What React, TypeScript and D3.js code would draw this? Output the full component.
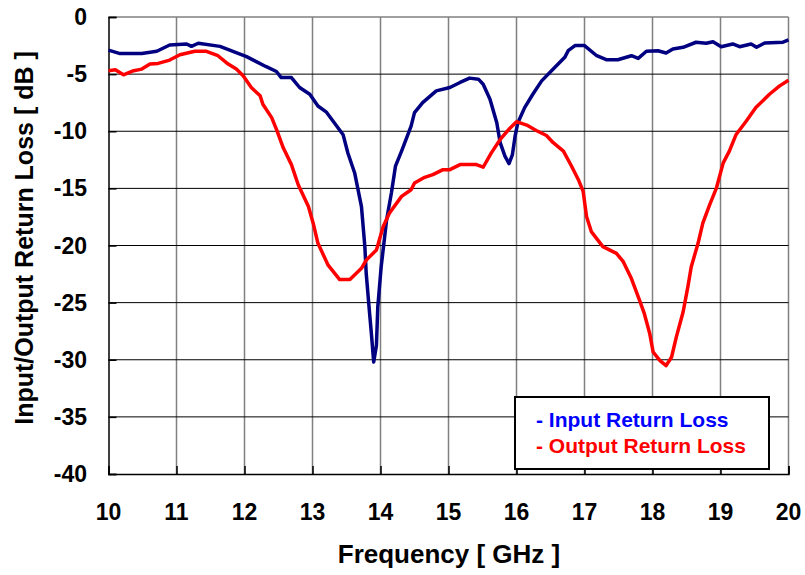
import React, { useEffect, useRef } from 'react';
import * as d3 from 'd3';

// Input return loss (navy trace)
const inputFreq = [
  10, 10.17, 10.49, 10.71, 10.9, 11.15, 11.22, 11.32, 11.64, 11.83, 12.03, 12.13, 12.32, 12.47, 12.54, 12.69,
  12.81, 12.96, 13.08, 13.2, 13.35, 13.45, 13.52, 13.62, 13.72, 13.77, 13.79, 13.84, 13.87, 13.9, 13.94, 13.96,
  14.01, 14.09, 14.16, 14.22, 14.31, 14.45, 14.5, 14.62, 14.82, 15.02, 15.17, 15.31, 15.44, 15.51, 15.61, 15.71,
  15.76, 15.83, 15.89, 15.94, 15.98, 16.02, 16.12, 16.24, 16.37, 16.54, 16.71, 16.76, 16.86, 17.0, 17.18, 17.32,
  17.49, 17.69, 17.79, 17.91, 18.08, 18.2, 18.3, 18.45, 18.64, 18.79, 18.89, 19.01, 19.18, 19.28, 19.45, 19.53,
  19.65, 19.92, 20,
];
const inputLoss = [
  -2.9, -3.2, -3.2, -3.0, -2.45, -2.36, -2.57, -2.3, -2.57, -3.0, -3.47, -3.77, -4.35, -4.77, -5.3, -5.3,
  -6.17, -6.76, -7.79, -8.3, -9.5, -10.3, -11.9, -13.65, -16.6, -20.1, -22.45, -25.97, -28.0, -30.2, -28.75, -25.4,
  -21.86, -17.76, -15.4, -13.06, -11.74, -9.55, -8.37, -7.5, -6.47, -6.17, -5.73, -5.35, -5.44, -5.88, -7.2, -9.25,
  -11.0, -12.18, -12.83, -12.04, -10.4, -9.25, -7.93, -6.76, -5.59, -4.56, -3.53, -2.95, -2.5, -2.5, -3.39, -3.74,
  -3.74, -3.39, -3.62, -3.0, -2.95, -3.15, -2.8, -2.65, -2.21, -2.3, -2.16, -2.6, -2.36, -2.6, -2.36, -2.65,
  -2.27, -2.2, -2.0,
];

// Output return loss (red trace)
const outputFreq = [
  10, 10.1, 10.22, 10.37, 10.49, 10.61, 10.73, 10.9, 11.05, 11.27, 11.44, 11.61, 11.76, 11.88, 11.98, 12.1,
  12.23, 12.27, 12.4, 12.47, 12.57, 12.69, 12.79, 12.94, 13.01, 13.08, 13.23, 13.4, 13.55, 13.72, 13.79, 13.94,
  14.04, 14.13, 14.31, 14.45, 14.5, 14.65, 14.77, 14.92, 15.02, 15.17, 15.41, 15.51, 15.63, 15.76, 15.9, 16.0,
  16.15, 16.29, 16.44, 16.54, 16.69, 16.81, 16.91, 16.98, 17.03, 17.1, 17.27, 17.47, 17.57, 17.69, 17.81, 17.88,
  17.96, 18.01, 18.11, 18.2, 18.28, 18.35, 18.45, 18.52, 18.57, 18.67, 18.74, 18.84, 18.94, 19.04, 19.13, 19.23,
  19.38, 19.52, 19.72, 19.87, 20,
];
const outputLoss = [
  -4.7, -4.62, -5.06, -4.7, -4.56, -4.12, -4.06, -3.77, -3.3, -3.0, -3.0, -3.39, -4.12, -4.56, -5.15, -6.17,
  -6.9, -7.64, -8.81, -9.84, -11.45, -12.92, -14.68, -16.58, -18.05, -19.81, -21.72, -22.98, -22.98, -22.0, -21.28, -20.4,
  -18.34, -17.17, -15.7, -15.12, -14.53, -14.03, -13.8, -13.36, -13.36, -12.92, -12.92, -13.15, -11.89, -10.72, -9.75, -9.16,
  -9.46, -9.93, -10.37, -11.0, -11.74, -13.06, -14.24, -15.26, -17.46, -18.78, -20.1, -20.69, -21.42, -22.89, -24.8, -25.97,
  -27.73, -29.34, -30.07, -30.51, -29.78, -28.02, -25.82, -23.62, -21.86, -19.81, -18.05, -16.44, -14.97, -12.77, -11.74, -10.28,
  -9.1, -7.93, -6.76, -6.03, -5.53,
];

const xTicks = [10, 11, 12, 13, 14, 15, 16, 17, 18, 19, 20];
const yTicks = [0, -5, -10, -15, -20, -25, -30, -35, -40];
const legendLabels = ['- Input Return Loss', '- Output Return Loss'];

const FONT = '"Liberation Sans", Arial, sans-serif';

const ReturnLossChart = () => {
  const ref = useRef<SVGSVGElement>(null);

  useEffect(() => {
    const width = 805;
    const height = 575;
    const left = 108.5;
    const right = 788.5;
    const top = 17;
    const bottom = 474;

    const svg = d3.select(ref.current).attr('width', width).attr('height', height);
    svg.selectAll('*').remove();

    svg.append('rect').attr('width', width).attr('height', height).attr('fill', '#fff');

    const x = d3.scaleLinear().domain([10, 20]).range([left, right]);
    const y = d3.scaleLinear().domain([-40, 0]).range([bottom, top]);

    // vertical grid (gray)
    svg
      .append('g')
      .selectAll('line')
      .data(xTicks.slice(1))
      .enter()
      .append('line')
      .attr('x1', (d) => x(d))
      .attr('x2', (d) => x(d))
      .attr('y1', top)
      .attr('y2', bottom)
      .attr('stroke', '#808080')
      .attr('stroke-width', 1.5);

    // top border (gray)
    svg
      .append('line')
      .attr('x1', left)
      .attr('x2', right)
      .attr('y1', top)
      .attr('y2', top)
      .attr('stroke', '#808080')
      .attr('stroke-width', 1.5);

    // horizontal grid (black)
    svg
      .append('g')
      .selectAll('line')
      .data(yTicks.filter((d) => d !== 0 && d !== -40))
      .enter()
      .append('line')
      .attr('x1', left)
      .attr('x2', right)
      .attr('y1', (d) => y(d))
      .attr('y2', (d) => y(d))
      .attr('stroke', '#000')
      .attr('stroke-width', 1);

    // Left axis, ticks pointing inward
    const yAxis = svg
      .append('g')
      .attr('transform', `translate(${left},0)`)
      .call(d3.axisRight(y).tickValues(yTicks).tickSize(8).tickFormat(() => ''));
    yAxis.select('.domain').attr('stroke', '#000').attr('stroke-width', 1.5);
    yAxis.selectAll('line').attr('stroke', '#000').attr('stroke-width', 1.5);

    // Bottom axis, ticks pointing inward
    const xAxis = svg
      .append('g')
      .attr('transform', `translate(0,${bottom})`)
      .call(d3.axisTop(x).tickValues(xTicks).tickSize(8).tickFormat(() => ''));
    xAxis.select('.domain').attr('stroke', '#000').attr('stroke-width', 1.5);
    xAxis.selectAll('line').attr('stroke', '#000').attr('stroke-width', 1.5);

    // tick labels
    svg
      .append('g')
      .selectAll('text')
      .data(yTicks)
      .enter()
      .append('text')
      .attr('x', 87)
      .attr('y', (d) => y(d) + 8)
      .attr('text-anchor', 'end')
      .style('font-family', FONT)
      .style('font-weight', 'bold')
      .style('font-size', '23px')
      .text((d) => d);

    svg
      .append('g')
      .selectAll('text')
      .data(xTicks)
      .enter()
      .append('text')
      .attr('x', (d) => x(d))
      .attr('y', 520)
      .attr('text-anchor', 'middle')
      .style('font-family', FONT)
      .style('font-weight', 'bold')
      .style('font-size', '23px')
      .text((d) => d);

    // axis titles
    svg
      .append('text')
      .attr('x', 449)
      .attr('y', 563)
      .attr('text-anchor', 'middle')
      .style('font-family', FONT)
      .style('font-weight', 'bold')
      .style('font-size', '26px')
      .text('Frequency [ GHz ]');

    svg
      .append('text')
      .attr('transform', `translate(33,238) rotate(-90)`)
      .attr('text-anchor', 'middle')
      .style('font-family', FONT)
      .style('font-weight', 'bold')
      .style('font-size', '25px')
      .text('Input/Output Return Loss [ dB ]');

    // traces
    const line = d3
      .line<[number, number]>()
      .x((d) => x(d[0]))
      .y((d) => y(d[1]));

    const inputData = inputFreq.map((f, i) => [f, inputLoss[i]] as [number, number]);
    const outputData = outputFreq.map((f, i) => [f, outputLoss[i]] as [number, number]);

    svg
      .append('path')
      .datum(inputData)
      .attr('d', line)
      .attr('fill', 'none')
      .attr('stroke', '#000080')
      .attr('stroke-width', 3.5)
      .attr('stroke-linejoin', 'round');

    svg
      .append('path')
      .datum(outputData)
      .attr('d', line)
      .attr('fill', 'none')
      .attr('stroke', '#ff0000')
      .attr('stroke-width', 3.5)
      .attr('stroke-linejoin', 'round');

    // legend
    const legend = svg.append('g');
    legend
      .append('rect')
      .attr('x', 515)
      .attr('y', 397)
      .attr('width', 254)
      .attr('height', 72)
      .attr('fill', '#fff')
      .attr('stroke', '#000')
      .attr('stroke-width', 2);

    legend
      .selectAll('text')
      .data(legendLabels)
      .enter()
      .append('text')
      .attr('x', 536)
      .attr('y', (d, i) => 427 + i * 26)
      .attr('fill', (d, i) => (i === 0 ? '#0000ff' : '#ff0000'))
      .style('font-family', FONT)
      .style('font-weight', 'bold')
      .style('font-size', '21px')
      .text((d) => d);
  }, []);

  return <svg ref={ref} style={{ display: 'block', overflow: 'visible' }}></svg>;
};

export default function App() {
  return (
    <div style={{ position: 'absolute', left: 0, top: 0, width: 805, height: 575, overflow: 'hidden' }}>
      <ReturnLossChart />
    </div>
  );
}
